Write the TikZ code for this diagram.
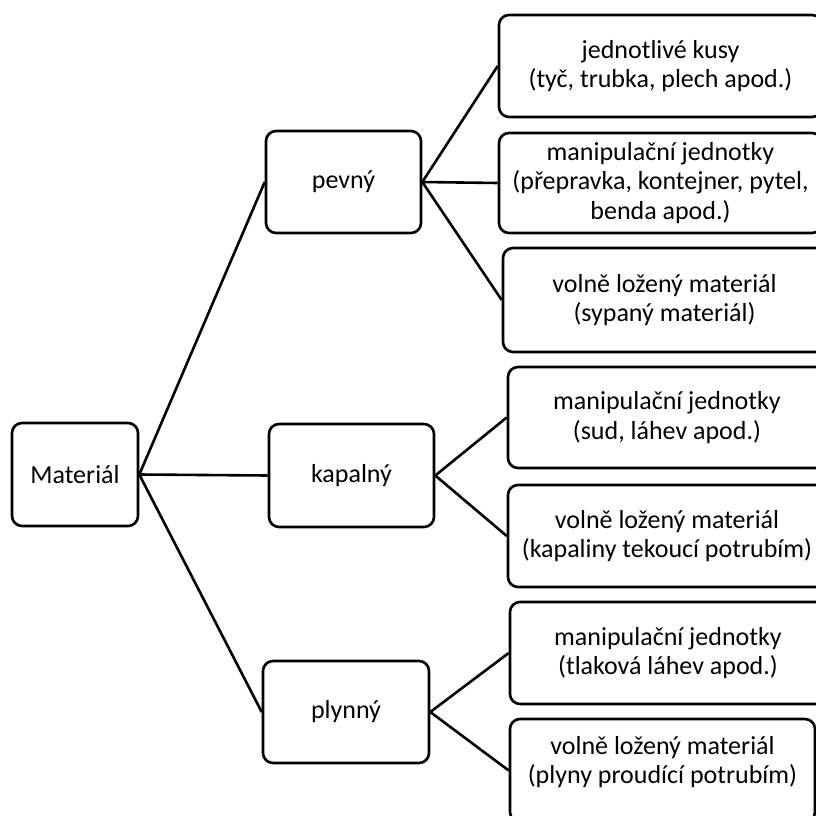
\documentclass[tikz,border=0pt]{standalone}
\usepackage{fontspec}
\setmainfont{Carlito}
\begin{document}
\begin{tikzpicture}[x=1pt,y=-1pt,
  box/.style={draw=black,line width=2.6pt,rounded corners=10pt,align=center,inner sep=0pt,
    font=\fontsize{26}{29.5}\selectfont},
  lbl/.style={align=center,inner sep=0pt,font=\fontsize{26}{29.5}\selectfont},
  conn/.style={draw=black,line width=2.6pt}]
\useasboundingbox (0,0) rectangle (816,816);
\clip (0,0) rectangle (816,816);
\fill[white] (0,0) rectangle (816,816);
\node[box,minimum width=126pt,minimum height=103pt] (mat) at (75,474.5) {Materiál};
\node[box,minimum width=155pt,minimum height=102pt] (pev) at (343.5,182) {pevný};
\node[box,minimum width=165pt,minimum height=103pt] (kap) at (351.5,475.5) {kapalný};
\node[box,minimum width=166pt,minimum height=102pt] (ply) at (346,712) {plynný};
\node[box,minimum width=323pt,minimum height=102pt] (b1) at (660.5,66) {jednotlivé kusy\\(tyč, trubka, plech apod.)};
\node[box,minimum width=323pt,minimum height=100pt] (b2) at (660.5,183) {manipulační jednotky\\(přepravka, kontejner, pytel,\\benda apod.)};
\node[box,minimum width=323pt,minimum height=104pt] (b3) at (664.5,300) {volně ložený materiál\\(sypaný materiál)};
\node[box,minimum width=318pt,minimum height=101pt] (b4) at (667,417.5) {manipulační jednotky\\(sud, láhev apod.)};
\node[box,minimum width=318pt,minimum height=102pt] (b5) at (667,536) {volně ložený materiál\\(kapaliny tekoucí potrubím)};
\node[box,minimum width=316pt,minimum height=102pt] (b6) at (668,653) {manipulační jednotky\\(tlaková láhev apod.)};
\node[box,minimum width=305pt,minimum height=103pt] (b7) at (662.5,770.5) {};
\node[lbl] (b7t) at (662.5,762) {volně ložený materiál\\(plyny proudící potrubím)};
\draw[conn] (mat.east) -- (pev.west);
\draw[conn] (mat.east) -- (kap.west);
\draw[conn] (mat.east) -- (ply.west);
\draw[conn] (pev.east) -- (b1.west);
\draw[conn] (pev.east) -- (b2.west);
\draw[conn] (pev.east) -- (b3.west);
\draw[conn] (kap.east) -- (b4.west);
\draw[conn] (kap.east) -- (b5.west);
\draw[conn] (ply.east) -- (b6.west);
\draw[conn] (ply.east) -- (b7.west);
\end{tikzpicture}
\end{document}
